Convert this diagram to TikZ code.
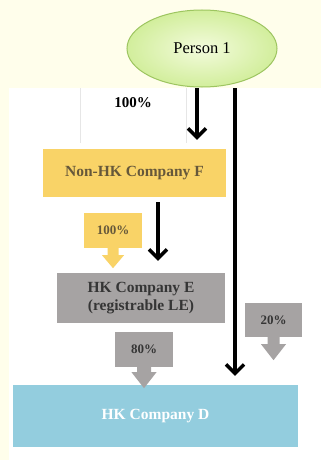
\documentclass[tikz,border=0pt]{standalone}
\usepackage{fontspec}
\setmainfont{Liberation Serif}
\usetikzlibrary{arrows.meta,shapes.geometric}

\definecolor{cream}{HTML}{FFFEEB}
\definecolor{personfill}{HTML}{F3FBDC}
\definecolor{personedge}{HTML}{D2EE9C}
\definecolor{personline}{HTML}{9DC560}
\definecolor{boxyellow}{HTML}{F9D367}
\definecolor{boxgrey}{HTML}{A6A3A3}
\definecolor{boxblue}{HTML}{93CDDE}
\definecolor{browntext}{HTML}{66583A}
\definecolor{darktext}{HTML}{353535}
\definecolor{tablerule}{HTML}{E6E6E6}

\newcommand\calltail[6]{%
  \fill[#2] ([xshift=-#3pt]#1.south) -- ++(0,#4) -- ++(#3-#5,0) --
        ++(#5,#6) -- ++(#5,-#6) -- ++(#3-#5,0) -- ++(0,-#4) -- cycle;}

\tikzset{
  entity/.style={rectangle, inner sep=0pt, font=\bfseries\fontsize{15.5}{18}\selectfont,
                 align=center},
  callbox/.style={rectangle, inner sep=0pt, minimum width=58pt, minimum height=35pt,
                  font=\bfseries\fontsize{13}{15}\selectfont},
  bigarrow/.style={line width=3.4pt, -{Straight Barb[length=9pt,width=18pt]}}
}

\begin{document}
\begin{tikzpicture}[x=1pt,y=-1pt]
  \useasboundingbox (0,0) rectangle (321,460);
  \fill[cream] (0,0) rectangle (321,460);
  \fill[white] (9,88) rectangle (321,460);
  \draw[tablerule] (80,88) -- (80,143);
  \draw[tablerule] (186,88) -- (186,143);

  \coordinate (a1) at (197,88);
  \coordinate (a2) at (235,88);
  \coordinate (a3) at (158,0);

  % owners
  \node[ellipse, minimum width=150pt, minimum height=77pt, inner color=personfill,
        outer color=personedge, draw=personline, line width=1pt,
        font=\rmfamily\fontsize{16.5}{19}\selectfont] (person) at (202,48.5) {Person 1};
  \node[font=\bfseries\fontsize{15}{17}\selectfont] (pctF) at (133,103) {100\%};

  % companies
  \node[entity, fill=boxyellow, text=browntext, minimum width=183pt, minimum height=48pt]
        (F) at (134.5,173) {Non-HK Company F};
  \node[entity, fill=boxgrey, text=darktext, minimum width=168pt, minimum height=50pt]
        (E) at (141,298) {HK Company E\\(registrable LE)};
  \node[entity, fill=boxblue, text=white, minimum width=285pt, minimum height=62pt]
        (D) at (155.5,416) {HK Company D};

  % share callouts
  \node[callbox, fill=boxyellow, text=browntext] (pctE) at (113,230.5) {100\%};
  \calltail{pctE}{boxyellow}{5.5}{7}{11}{13}
  \node[callbox, fill=boxgrey, text=darktext, minimum width=57pt, minimum height=34pt]
        (pctD2) at (273.5,320) {20\%};
  \calltail{pctD2}{boxgrey}{6}{7}{12.5}{16}
  \node[callbox, fill=boxgrey, text=darktext] (pctD1) at (144,349.5) {80\%};
  \calltail{pctD1}{boxgrey}{7}{5}{12.5}{16}

  % ownership arrows
  \draw[bigarrow, shorten >=9pt] (a1) -- (a1 |- F.north);
  \draw[bigarrow, shorten >=9pt] (a2) -- (a2 |- D.north);
  \draw[bigarrow, shorten <=5pt, shorten >=12pt] (a3 |- F.south) -- (a3 |- E.north);
\end{tikzpicture}
\end{document}
